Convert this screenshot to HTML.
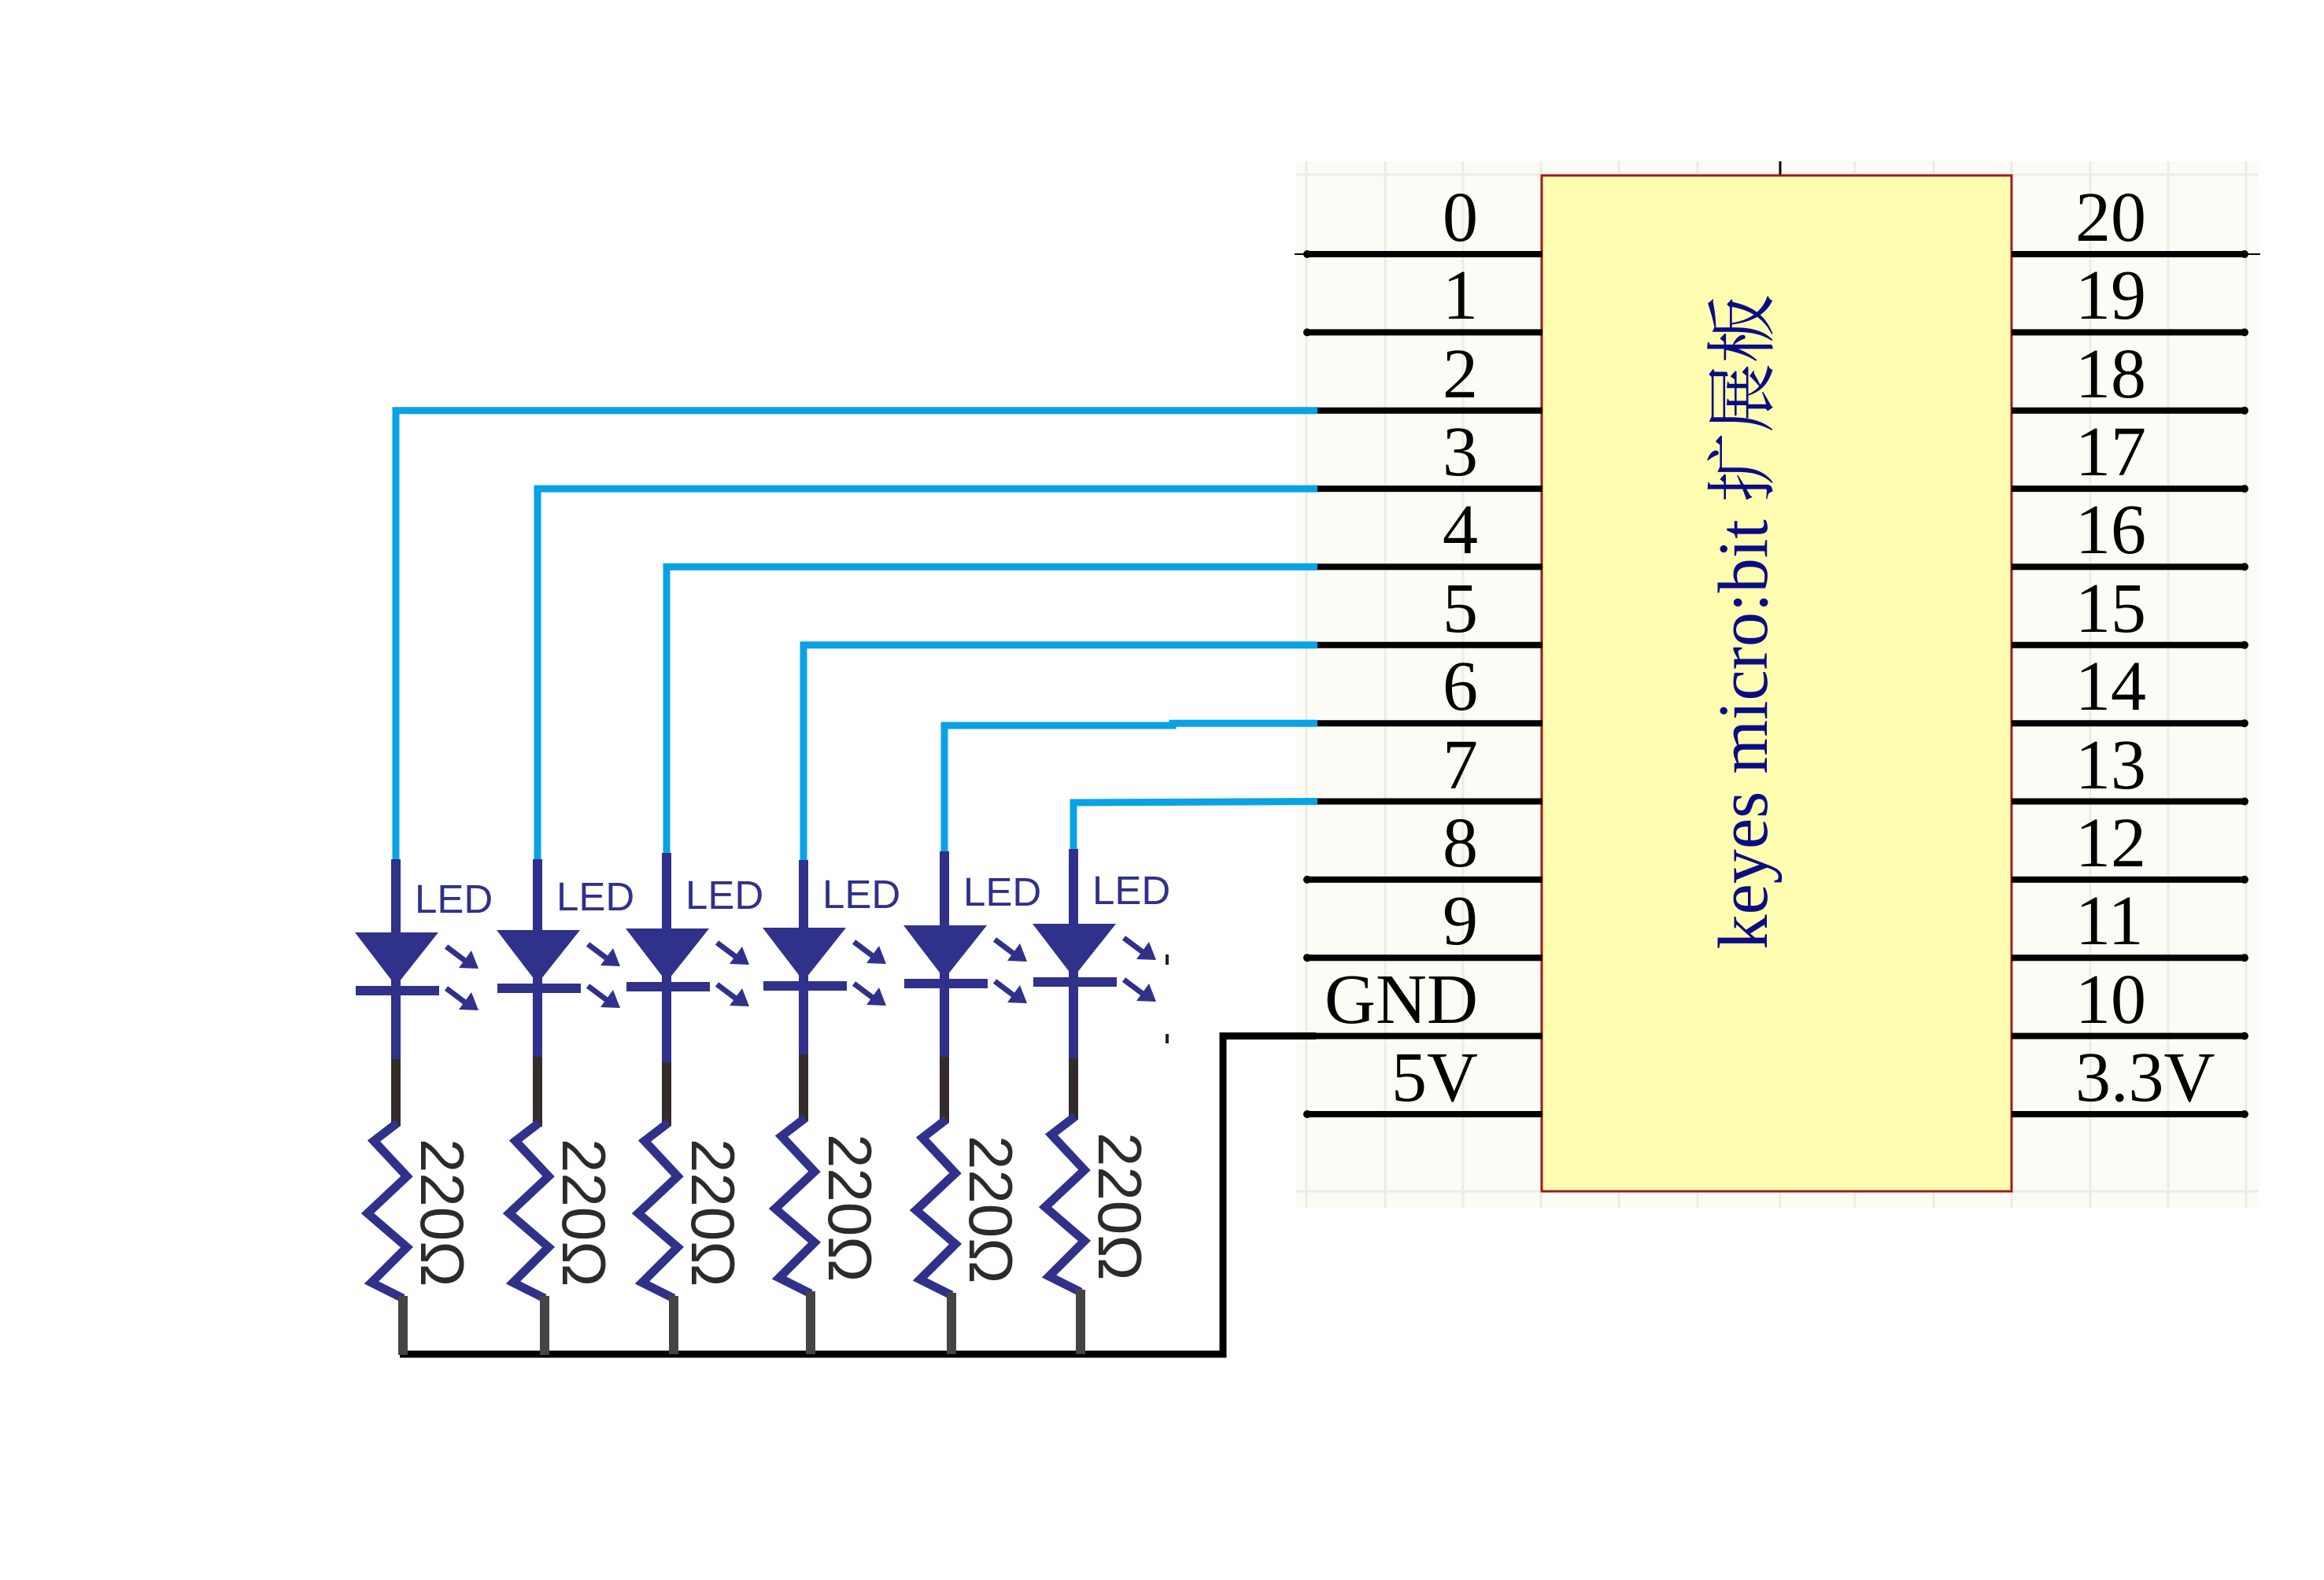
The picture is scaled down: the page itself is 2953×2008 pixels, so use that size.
<!DOCTYPE html>
<html><head><meta charset="utf-8"><style>
html,body{margin:0;padding:0;background:#fff;}
svg{display:block}
</style></head><body>
<svg width="2953" height="2008" viewBox="0 0 2953 2008" xmlns="http://www.w3.org/2000/svg">
<rect x="0" y="0" width="2953" height="2008" fill="#fff"/>
<!-- grid area -->
<rect x="1647" y="205" width="1223" height="1330" fill="#fcfbf6"/>
<g stroke="#ecebe6" stroke-width="3">
<line x1="1660" y1="205" x2="1660" y2="1535"/><line x1="1760" y1="205" x2="1760" y2="1535"/><line x1="1859" y1="205" x2="1859" y2="1535"/><line x1="1958" y1="205" x2="1958" y2="1535"/>
<line x1="2057" y1="205" x2="2057" y2="1535"/><line x1="2157" y1="205" x2="2157" y2="1535"/><line x1="2262" y1="205" x2="2262" y2="1535"/><line x1="2357" y1="205" x2="2357" y2="1535"/><line x1="2457" y1="205" x2="2457" y2="1535"/><line x1="2556" y1="205" x2="2556" y2="1535"/><line x1="2656" y1="205" x2="2656" y2="1535"/><line x1="2755" y1="205" x2="2755" y2="1535"/><line x1="2854" y1="205" x2="2854" y2="1535"/>
<line x1="1647" y1="222" x2="2870" y2="222"/><line x1="1647" y1="1514" x2="2870" y2="1514"/>
</g>
<line x1="2262" y1="205" x2="2262" y2="223" stroke="#000" stroke-width="3"/>
<!-- chip -->
<rect x="1959" y="223" width="597" height="1291" fill="#fffdb0" stroke="#a01c1c" stroke-width="3"/>
<text transform="translate(2245,790) rotate(-90)" text-anchor="middle" font-family="Liberation Serif, 'Noto Serif CJK SC', serif" font-size="90" fill="#0c0c82" textLength="833" lengthAdjust="spacingAndGlyphs">keyes micro:bit 扩展板</text>
<!-- pins -->
<g stroke="#000" stroke-width="8">
<line x1="1660" y1="323" x2="1960" y2="323"/><line x1="1660" y1="422.4" x2="1960" y2="422.4"/><line x1="1660" y1="521.7" x2="1960" y2="521.7"/><line x1="1660" y1="621.1" x2="1960" y2="621.1"/><line x1="1660" y1="720.4" x2="1960" y2="720.4"/><line x1="1660" y1="819.8" x2="1960" y2="819.8"/><line x1="1660" y1="919.2" x2="1960" y2="919.2"/><line x1="1660" y1="1018.5" x2="1960" y2="1018.5"/><line x1="1660" y1="1117.9" x2="1960" y2="1117.9"/><line x1="1660" y1="1217.2" x2="1960" y2="1217.2"/><line x1="1660" y1="1316.6" x2="1960" y2="1316.6"/><line x1="1660" y1="1416" x2="1960" y2="1416"/>
<line x1="2556" y1="323" x2="2852" y2="323"/><line x1="2556" y1="422.4" x2="2852" y2="422.4"/><line x1="2556" y1="521.7" x2="2852" y2="521.7"/><line x1="2556" y1="621.1" x2="2852" y2="621.1"/><line x1="2556" y1="720.4" x2="2852" y2="720.4"/><line x1="2556" y1="819.8" x2="2852" y2="819.8"/><line x1="2556" y1="919.2" x2="2852" y2="919.2"/><line x1="2556" y1="1018.5" x2="2852" y2="1018.5"/><line x1="2556" y1="1117.9" x2="2852" y2="1117.9"/><line x1="2556" y1="1217.2" x2="2852" y2="1217.2"/><line x1="2556" y1="1316.6" x2="2852" y2="1316.6"/><line x1="2556" y1="1416" x2="2852" y2="1416"/>
</g>
<line x1="2852" y1="323" x2="2872" y2="323" stroke="#000" stroke-width="2"/>
<line x1="1645" y1="323" x2="1660" y2="323" stroke="#000" stroke-width="2"/>
<g fill="#000">
<circle cx="2852" cy="323" r="5"/><circle cx="2852" cy="422.4" r="5"/><circle cx="2852" cy="521.7" r="5"/><circle cx="2852" cy="621.1" r="5"/><circle cx="2852" cy="720.4" r="5"/><circle cx="2852" cy="819.8" r="5"/><circle cx="2852" cy="919.2" r="5"/><circle cx="2852" cy="1018.5" r="5"/><circle cx="2852" cy="1117.9" r="5"/><circle cx="2852" cy="1217.2" r="5"/><circle cx="2852" cy="1316.6" r="5"/><circle cx="2852" cy="1416" r="5"/>
<circle cx="1661" cy="323" r="5"/><circle cx="1661" cy="422.4" r="5"/><circle cx="1661" cy="1117.9" r="5"/><circle cx="1661" cy="1217.2" r="5"/><circle cx="1661" cy="1416" r="5"/>
</g>
<g font-family="Liberation Serif, serif" font-size="90" fill="#000" text-anchor="end">
<text x="1878" y="306">0</text><text x="1878" y="405">1</text><text x="1878" y="505">2</text><text x="1878" y="604">3</text><text x="1878" y="703">4</text><text x="1878" y="803">5</text><text x="1878" y="902">6</text><text x="1878" y="1002">7</text><text x="1878" y="1101">8</text><text x="1878" y="1200">9</text><text x="1878" y="1300">GND</text><text x="1878" y="1399">5V</text>
</g>
<g font-family="Liberation Serif, serif" font-size="90" fill="#000">
<text x="2637" y="306">20</text><text x="2637" y="405">19</text><text x="2637" y="505">18</text><text x="2637" y="604">17</text><text x="2637" y="703">16</text><text x="2637" y="803">15</text><text x="2637" y="902">14</text><text x="2637" y="1002">13</text><text x="2637" y="1101">12</text><text x="2637" y="1200">11</text><text x="2637" y="1300">10</text><text x="2637" y="1399">3.3V</text>
</g>
<!-- blue wires -->
<g stroke="#0aa2e6" stroke-width="9" fill="none">
<polyline points="1674,521.7 503,521.7 503,1093"/>
<polyline points="1674,621.1 683,621.1 683,1093"/>
<polyline points="1674,720.4 847,720.4 847,1084"/>
<polyline points="1674,819.8 1021,819.8 1021,1093"/>
<polyline points="1674,919.2 1490,919.2 1490,922 1200,922 1200,1082"/>
<polyline points="1674,1018.5 1364,1020 1364,1079"/>
</g>
<!-- GND wire -->
<polyline points="1672,1316.6 1554,1316.6 1554,1721 508,1721" stroke="#000" stroke-width="9" fill="none"/>
<!-- LED stages -->
<defs>
<clipPath id="clp"><rect x="0" y="0" width="1485" height="2008"/></clipPath>
</defs>
<g id="leds" clip-path="url(#clp)">
</g>
<g fill="#30318a" stroke="none" font-family="Liberation Sans, sans-serif">
<!-- generated per column -->
</g>
<g clip-path="url(#clp)">
<!-- column template expanded -->
<g>
<!-- LED1 c=503 t=1185 be=1093 bs=1346 r=1430 -->
<line x1="503" y1="1092" x2="503" y2="1347" stroke="#30318a" stroke-width="12"/>
<polygon points="451,1185 557,1185 503,1253" fill="#30318a"/>
<rect x="452" y="1253" width="106" height="12" fill="#30318a"/>
<text x="527" y="1160" font-family="Liberation Sans, sans-serif" font-size="51" fill="#30318a">LED</text>
<line x1="567" y1="1203" x2="591" y2="1221" stroke="#30318a" stroke-width="7"/><polygon points="583,1230 608,1231 599,1208" fill="#30318a"/>
<line x1="567" y1="1256" x2="591" y2="1274" stroke="#30318a" stroke-width="7"/><polygon points="583,1283 608,1284 599,1261" fill="#30318a"/>
<line x1="503" y1="1346" x2="503" y2="1431" stroke="#332c2b" stroke-width="12"/>
<polyline points="505,1427 475,1450 517,1495 467,1542 517,1585 472,1630 512,1650" stroke="#30318a" stroke-width="11" fill="none"/>
<line x1="512" y1="1647" x2="512" y2="1722" stroke="#464343" stroke-width="12"/>
<text transform="translate(535,1447) rotate(90)" font-family="Liberation Sans, sans-serif" font-size="78" fill="#2d2a2a">220Ω</text>
</g>
<g transform="translate(180,-3)">
<line x1="503" y1="1095" x2="503" y2="1347" stroke="#30318a" stroke-width="12"/>
<polygon points="451,1185 557,1185 503,1253" fill="#30318a"/>
<rect x="452" y="1253" width="106" height="12" fill="#30318a"/>
<text x="527" y="1160" font-family="Liberation Sans, sans-serif" font-size="51" fill="#30318a">LED</text>
<line x1="567" y1="1203" x2="591" y2="1221" stroke="#30318a" stroke-width="7"/><polygon points="583,1230 608,1231 599,1208" fill="#30318a"/>
<line x1="567" y1="1256" x2="591" y2="1274" stroke="#30318a" stroke-width="7"/><polygon points="583,1283 608,1284 599,1261" fill="#30318a"/>
<line x1="503" y1="1346" x2="503" y2="1435" stroke="#332c2b" stroke-width="12"/>
<polyline points="505,1430 475,1453 517,1498 467,1545 517,1588 472,1633 512,1653" stroke="#30318a" stroke-width="11" fill="none"/>
<line x1="512" y1="1650" x2="512" y2="1725" stroke="#464343" stroke-width="12"/>
<text transform="translate(535,1450) rotate(90)" font-family="Liberation Sans, sans-serif" font-size="78" fill="#2d2a2a">220Ω</text>
</g>
<g transform="translate(344,-5)">
<line x1="503" y1="1089" x2="503" y2="1355" stroke="#30318a" stroke-width="12"/>
<polygon points="451,1185 557,1185 503,1253" fill="#30318a"/>
<rect x="452" y="1253" width="106" height="12" fill="#30318a"/>
<text x="527" y="1160" font-family="Liberation Sans, sans-serif" font-size="51" fill="#30318a">LED</text>
<line x1="567" y1="1203" x2="591" y2="1221" stroke="#30318a" stroke-width="7"/><polygon points="583,1230 608,1231 599,1208" fill="#30318a"/>
<line x1="567" y1="1256" x2="591" y2="1274" stroke="#30318a" stroke-width="7"/><polygon points="583,1283 608,1284 599,1261" fill="#30318a"/>
<line x1="503" y1="1355" x2="503" y2="1436" stroke="#332c2b" stroke-width="12"/>
<polyline points="505,1432 475,1455 517,1500 467,1547 517,1590 472,1635 512,1655" stroke="#30318a" stroke-width="11" fill="none"/>
<line x1="512" y1="1652" x2="512" y2="1726" stroke="#464343" stroke-width="12"/>
<text transform="translate(535,1452) rotate(90)" font-family="Liberation Sans, sans-serif" font-size="78" fill="#2d2a2a">220Ω</text>
</g>
<g transform="translate(518,-6)">
<line x1="503" y1="1099" x2="503" y2="1346" stroke="#30318a" stroke-width="12"/>
<polygon points="451,1185 557,1185 503,1253" fill="#30318a"/>
<rect x="452" y="1253" width="106" height="12" fill="#30318a"/>
<text x="527" y="1160" font-family="Liberation Sans, sans-serif" font-size="51" fill="#30318a">LED</text>
<line x1="567" y1="1203" x2="591" y2="1221" stroke="#30318a" stroke-width="7"/><polygon points="583,1230 608,1231 599,1208" fill="#30318a"/>
<line x1="567" y1="1256" x2="591" y2="1274" stroke="#30318a" stroke-width="7"/><polygon points="583,1283 608,1284 599,1261" fill="#30318a"/>
<line x1="503" y1="1346" x2="503" y2="1431" stroke="#332c2b" stroke-width="12"/>
<polyline points="505,1427 475,1450 517,1495 467,1542 517,1585 472,1630 512,1650" stroke="#30318a" stroke-width="11" fill="none"/>
<line x1="512" y1="1647" x2="512" y2="1727" stroke="#464343" stroke-width="12"/>
<text transform="translate(535,1447) rotate(90)" font-family="Liberation Sans, sans-serif" font-size="78" fill="#2d2a2a">220Ω</text>
</g>
<g transform="translate(697,-9)">
<line x1="503" y1="1091" x2="503" y2="1352" stroke="#30318a" stroke-width="12"/>
<polygon points="451,1185 557,1185 503,1253" fill="#30318a"/>
<rect x="452" y="1253" width="106" height="12" fill="#30318a"/>
<text x="527" y="1160" font-family="Liberation Sans, sans-serif" font-size="51" fill="#30318a">LED</text>
<line x1="567" y1="1203" x2="591" y2="1221" stroke="#30318a" stroke-width="7"/><polygon points="583,1230 608,1231 599,1208" fill="#30318a"/>
<line x1="567" y1="1256" x2="591" y2="1274" stroke="#30318a" stroke-width="7"/><polygon points="583,1283 608,1284 599,1261" fill="#30318a"/>
<line x1="503" y1="1352" x2="503" y2="1436" stroke="#332c2b" stroke-width="12"/>
<polyline points="505,1432 475,1455 517,1500 467,1547 517,1590 472,1635 512,1655" stroke="#30318a" stroke-width="11" fill="none"/>
<line x1="512" y1="1652" x2="512" y2="1730" stroke="#464343" stroke-width="12"/>
<text transform="translate(535,1452) rotate(90)" font-family="Liberation Sans, sans-serif" font-size="78" fill="#2d2a2a">220Ω</text>
</g>
<g transform="translate(861,-11)">
<line x1="503" y1="1090" x2="503" y2="1356" stroke="#30318a" stroke-width="12"/>
<polygon points="451,1185 557,1185 503,1253" fill="#30318a"/>
<rect x="452" y="1253" width="106" height="12" fill="#30318a"/>
<text x="527" y="1160" font-family="Liberation Sans, sans-serif" font-size="51" fill="#30318a">LED</text>
<line x1="567" y1="1203" x2="591" y2="1221" stroke="#30318a" stroke-width="7"/><polygon points="583,1230 608,1231 599,1208" fill="#30318a"/>
<line x1="567" y1="1256" x2="591" y2="1274" stroke="#30318a" stroke-width="7"/><polygon points="583,1283 608,1284 599,1261" fill="#30318a"/>
<line x1="503" y1="1356" x2="503" y2="1434" stroke="#332c2b" stroke-width="12"/>
<polyline points="505,1430 475,1453 517,1498 467,1545 517,1588 472,1633 512,1653" stroke="#30318a" stroke-width="11" fill="none"/>
<line x1="512" y1="1650" x2="512" y2="1732" stroke="#464343" stroke-width="12"/>
<text transform="translate(535,1450) rotate(90)" font-family="Liberation Sans, sans-serif" font-size="78" fill="#2d2a2a">220Ω</text>
</g>
</g>
<rect x="1481" y="1213" width="4" height="13" fill="#222"/>
<rect x="1481" y="1314" width="4" height="12" fill="#222"/>
</svg>
</body></html>
